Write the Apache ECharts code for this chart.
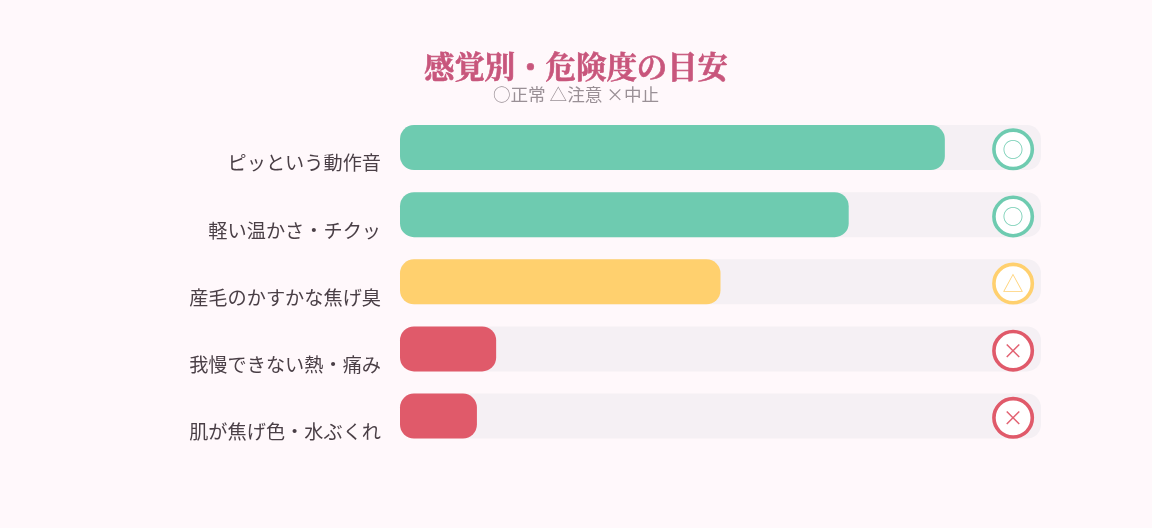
<!DOCTYPE html>
<html><head><meta charset="utf-8">
<style>html,body{margin:0;padding:0;background:#fff8fb}#c{width:1152px;height:528px}</style>
<script src="https://cdn.jsdelivr.net/npm/echarts@6/dist/echarts.min.js"></script>
</head><body><div id="c"></div>
<script>
const categories=['ピッという動作音','軽い温かさ・チクッ','産毛のかすかな焦げ臭','我慢できない熱・痛み','肌が焦げ色・水ぶくれ'];
const values=[85,70,50,15,12];
const marks=['○','○','△','×','×'];
const colors=['#6ecbb0','#6ecbb0','#ffd06e','#e05a6a','#e05a6a'];
const markerPosition=[95.65,95.65,95.65,95.65,95.65];
const titleText='感覚別・危険度の目安';
const subText='○正常 △注意 ×中止';
const chart=echarts.init(document.getElementById('c'),null,{renderer:'canvas'});
chart.setOption({
 animation:false,
 backgroundColor:'#fff8fb',
 title:{text:titleText,subtext:subText,left:'center',top:39,itemGap:0,
  textStyle:{fontFamily:'"Noto Serif CJK JP","Noto Serif CJK SC",serif',fontSize:30.4,fontWeight:700,color:'#c8567c',lineHeight:44,textBorderColor:'#c8567c',textBorderWidth:0.6},
  subtextStyle:{fontFamily:'"Noto Sans CJK JP",sans-serif',fontSize:17.6,color:'#9a9096',lineHeight:13}},
 grid:{left:400,right:111,top:114,height:335.6},
 xAxis:{type:'value',min:0,max:100,show:false},
 yAxis:{type:'category',inverse:true,data:categories,axisLine:{show:false},axisTick:{show:false},
  axisLabel:{margin:19,fontFamily:'"Noto Sans CJK JP",sans-serif',fontSize:19.2,color:'#4a3f46',verticalAlign:'top',padding:[6,0,0,0]}},
 series:[
  {type:'bar',data:values.map((v,i)=>({value:v,itemStyle:{color:colors[i]}})),barWidth:45,
   showBackground:true,backgroundStyle:{color:'#f5f0f4',borderRadius:14},
   itemStyle:{borderRadius:14}},
  {type:'scatter',data:markerPosition.map((v,i)=>({value:[v,categories[i]],
     itemStyle:{color:'#fff',borderColor:colors[i],borderWidth:3.6,opacity:1},
     label:{show:true,position:'inside',offset:[0,-0.5],formatter:marks[i],color:colors[i],fontSize:21,fontFamily:'"Noto Sans CJK JP",sans-serif',opacity:0.95}})),
   symbol:'circle',symbolSize:38.4,symbolOffset:[0,1.8],z:5}
 ]
});
</script></body></html>
